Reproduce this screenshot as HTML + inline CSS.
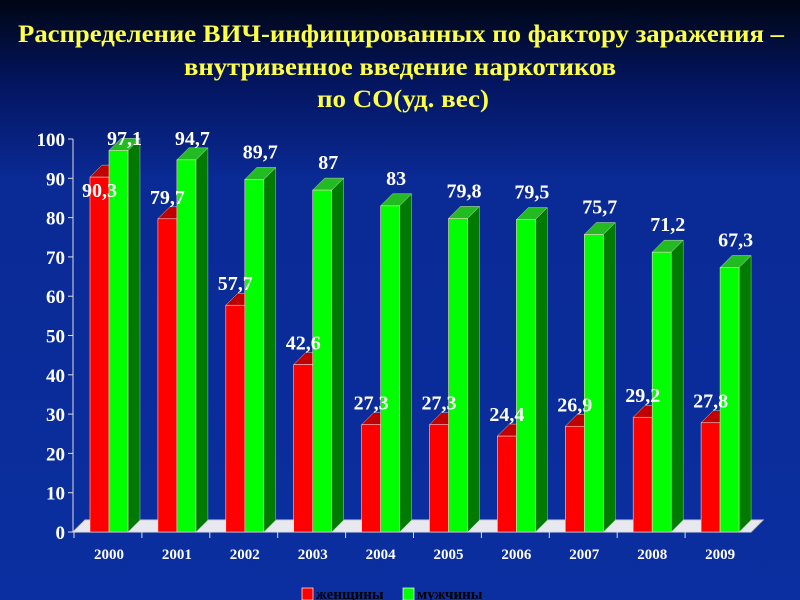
<!DOCTYPE html>
<html><head><meta charset="utf-8"><style>
html,body{margin:0;padding:0;width:800px;height:600px;overflow:hidden}
body{background:linear-gradient(180deg,#000614 0%,#031560 14%,#0a2a95 30%,#0b2fa0 100%);font-family:"Liberation Serif","DejaVu Serif",serif}
</style></head><body>
<svg width="800" height="600" style="position:absolute;left:0;top:0">
<g fill="#ffff44" font-weight="bold" font-size="25" text-anchor="middle" font-family="Liberation Serif, serif">
<text x="401" y="42" textLength="766" lengthAdjust="spacingAndGlyphs">Распределение ВИЧ-инфицированных по фактору заражения –</text>
<text x="400" y="75" textLength="432" lengthAdjust="spacingAndGlyphs">внутривенное введение наркотиков</text>
<text x="403" y="107" textLength="172" lengthAdjust="spacingAndGlyphs">по СО(уд. вес)</text>
</g>
<g id="plot"></g>
<g font-size="15" font-weight="bold" fill="#000">
<rect x="302" y="588" width="11" height="12" fill="#ff0000" stroke="#fff" stroke-width="0.7"/>
<text x="316" y="599" fill="#000">женщины</text>
<rect x="403" y="588" width="11" height="12" fill="#00ff00" stroke="#fff" stroke-width="0.7"/>
<text x="417" y="599" fill="#000">мужчины</text>
</g>
</svg>
<script>
const years=["2000","2001","2002","2003","2004","2005","2006","2007","2008","2009"];
const women=[90.3,79.7,57.7,42.6,27.3,27.3,24.4,26.9,29.2,27.8];
const men=[97.1,94.7,89.7,87,83,79.8,79.5,75.7,71.2,67.3];
const yTicks=[0,10,20,30,40,50,60,70,80,90,100];
const NS="http://www.w3.org/2000/svg";
const plot=document.getElementById('plot');
const X0=73,Y0=532,Y100=139,STEP=67.9,BW=19,D=12;
function y(v){return Y0-(Y0-Y100)*v/100;}
function catX(i){return 90+i*STEP;}
function mk(tag,attrs,parent){const e=document.createElementNS(NS,tag);for(const k in attrs)e.setAttribute(k,attrs[k]);(parent||plot).appendChild(e);return e;}
let fl=mk('polygon',{points:`${X0},${Y0} ${X0+D},${Y0-D} ${X0+690},${Y0-D} ${X0+678},${Y0}`,fill:'#e8e8f0',stroke:'#ccc'});


let ax=mk('line',{x1:X0,y1:Y100,x2:X0,y2:Y0,stroke:'#ddd','stroke-width':1});


let bx=mk('line',{x1:X0,y1:Y0,x2:X0+678,y2:Y0,stroke:'#ddd','stroke-width':1});


yTicks.forEach(t=>{
  let l=mk('line',{x1:X0-5,y1:y(t),x2:X0,y2:y(t),stroke:'#ddd'});
  
  
  let tx=mk('text',{x:X0-8,y:y(t)+7,'text-anchor':'end','font-size':19,'font-weight':'bold',fill:'#fff'});
  tx.textContent=t;
  
  
});
function bar(x,v,front,side,top,name){
  const g=mk('g',{});
  
  
  const t=y(v);
  mk('polygon',{points:`${x+BW},${Y0} ${x+BW},${t} ${x+BW+D},${t-D} ${x+BW+D},${Y0-D}`,fill:side,stroke:'#9c9',"stroke-width":0.5},g);
  mk('polygon',{points:`${x},${t} ${x+D},${t-D} ${x+BW+D},${t-D} ${x+BW},${t}`,fill:top,stroke:'#ccc',"stroke-width":0.5},g);
  mk('rect',{x:x,y:t,width:BW,height:Y0-t,fill:front,stroke:'#fcc',"stroke-width":0.6},g);
  return t;
}
years.forEach((yr,i)=>{
  const x=catX(i);
  const tw=bar(x,women[i],'#ff0000','#aa0000','#c00000','bar-women-'+yr);
  const tm=bar(x+BW,men[i],'#00ff00','#007a00','#22bb22','bar-men-'+yr);
  let lw=mk('text',{x:x+BW/2,y:Math.max(tw-22,190)+7,'text-anchor':'middle','font-size':20,'font-weight':'bold',fill:'#fff'});
  lw.textContent=String(women[i]).replace('.',',');
  
  
  let lm=mk('text',{x:x+BW+BW/2+6,y:Math.max(tm-28,138)+7,'text-anchor':'middle','font-size':20,'font-weight':'bold',fill:'#fff'});
  lm.textContent=String(men[i]).replace('.',',');
  
  
  let xl=mk('text',{x:x+BW,y:559,'text-anchor':'middle','font-size':15,'font-weight':'bold',fill:'#fff'});
  xl.textContent=yr;
  
  
  let tk=mk('line',{x1:x-16,y1:Y0,x2:x-16,y2:Y0+6,stroke:'#ddd'});
  
  
});
</script>
</body></html>
